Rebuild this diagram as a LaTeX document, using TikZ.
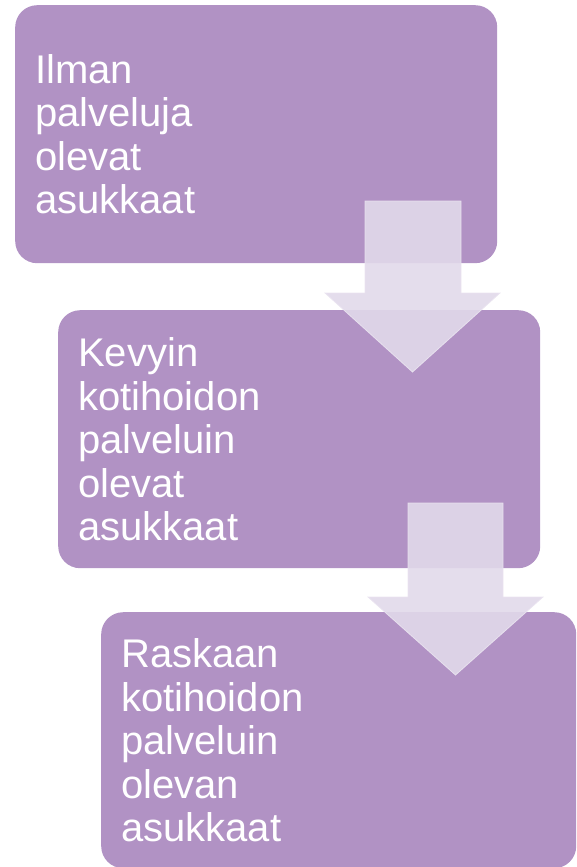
\documentclass[tikz,border=0pt]{standalone}
\usepackage{fontspec}
\setmainfont{Liberation Sans}
\definecolor{boxpurple}{HTML}{B192C4}
\definecolor{arrowfill}{RGB}{225,217,234}
\definecolor{arrowedge}{RGB}{234,228,240}
\tikzset{
  stagebox/.style={rectangle, rounded corners=22pt, fill=boxpurple, draw=none,
    minimum width=482pt, minimum height=258pt, inner xsep=20pt, inner ysep=0pt,
    text width=442pt, align=left, text=white, anchor=north west,
    font=\fontsize{40pt}{43.5pt}\selectfont},
  downarrow/.style={fill=arrowfill, fill opacity=0.9, draw=arrowedge, draw opacity=0.9, line width=0.8pt}
}
\begin{document}
\begin{tikzpicture}[x=1pt,y=-1pt]
\useasboundingbox (0,0) rectangle (576,867);
\clip (0,0) rectangle (576,867);
\node[stagebox] (b1) at (15,5) {Ilman\\palveluja\\olevat\\asukkaat};
\node[stagebox] (b2) at (58,310) {Kevyin\\kotihoidon\\palveluin\\olevat\\asukkaat};
\node[stagebox, minimum width=475pt, minimum height=256pt, text width=435pt] (b3) at (101,612) {Raskaan\\kotihoidon\\palveluin\\olevan\\asukkaat};
\draw[downarrow] (365,201) -- (461,201) -- (461,293) -- (500,293) -- (412.5,372) -- (325,293) -- (365,293) -- cycle;
\draw[downarrow] (408,503) -- (503,503) -- (503,597) -- (543,597) -- (455.5,675) -- (368,597) -- (408,597) -- cycle;
\end{tikzpicture}
\end{document}
